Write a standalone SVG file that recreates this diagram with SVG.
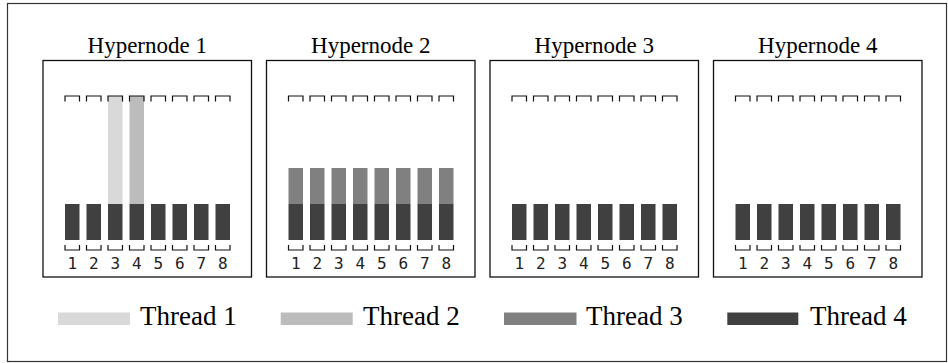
<svg xmlns="http://www.w3.org/2000/svg" xmlns:xlink="http://www.w3.org/1999/xlink" width="948" height="363" viewBox="0 0 948 363">
<style>
.frame{fill:#fff;stroke:#333;stroke-width:1.2}
.box{fill:none;stroke:#111;stroke-width:1.3}
.br{fill:none;stroke:#111;stroke-width:1.2}
.t4{fill:#404040}.t3{fill:#808080}.t2{fill:#bcbcbc}.t1{fill:#d9d9d9}
.title{font-family:"Liberation Serif","Times New Roman",serif;font-size:23px;fill:#000;text-anchor:middle}
.num{font-family:"DejaVu Sans Mono",monospace;font-size:16px;fill:#222;text-anchor:middle}
.leg{font-family:"Liberation Serif","Times New Roman",serif;font-size:27px;fill:#000}
</style>
<defs>
<g id="cells">
<path class="br" d="M22,101.5V96H36.5V101.5M43.5,101.5V96H58V101.5M65,101.5V96H79.5V101.5M86.5,101.5V96H101V101.5M108,101.5V96H122.5V101.5M129.5,101.5V96H144V101.5M151,101.5V96H165.5V101.5M172.5,101.5V96H187V101.5"/>
<path class="br" d="M22,245V250H36.5V245M43.5,245V250H58V245M65,245V250H79.5V245M86.5,245V250H101V245M108,245V250H122.5V245M129.5,245V250H144V245M151,245V250H165.5V245M172.5,245V250H187V245"/>
<g class="t4">
<rect x="22" y="204" width="14.5" height="36"/><rect x="43.5" y="204" width="14.5" height="36"/><rect x="65" y="204" width="14.5" height="36"/><rect x="86.5" y="204" width="14.5" height="36"/><rect x="108" y="204" width="14.5" height="36"/><rect x="129.5" y="204" width="14.5" height="36"/><rect x="151" y="204" width="14.5" height="36"/><rect x="172.5" y="204" width="14.5" height="36"/>
</g>
<rect class="box" x="0" y="60.5" width="208.5" height="216.5"/>
</g>
</defs>
<rect class="frame" x="7.5" y="3.5" width="939" height="358"/>
<g id="hypernode1" transform="translate(43,0)">
<rect class="t1" x="65" y="96" width="14.5" height="108"/>
<rect class="t2" x="86.5" y="96" width="14.5" height="108"/>
<use href="#cells" xlink:href="#cells"/>
<text class="title" x="104.25" y="53">Hypernode 1</text>
<text class="num" x="29.25 50.75 72.25 93.75 115.25 136.75 158.25 179.75" y="269">12345678</text>
</g>
<g id="hypernode2" transform="translate(266.5,0)">
<g class="t3">
<rect x="22" y="168" width="14.5" height="36"/><rect x="43.5" y="168" width="14.5" height="36"/><rect x="65" y="168" width="14.5" height="36"/><rect x="86.5" y="168" width="14.5" height="36"/><rect x="108" y="168" width="14.5" height="36"/><rect x="129.5" y="168" width="14.5" height="36"/><rect x="151" y="168" width="14.5" height="36"/><rect x="172.5" y="168" width="14.5" height="36"/>
</g>
<use href="#cells" xlink:href="#cells"/>
<text class="title" x="104.25" y="53">Hypernode 2</text>
<text class="num" x="29.25 50.75 72.25 93.75 115.25 136.75 158.25 179.75" y="269">12345678</text>
</g>
<g id="hypernode3" transform="translate(490,0)">
<use href="#cells" xlink:href="#cells"/>
<text class="title" x="104.25" y="53">Hypernode 3</text>
<text class="num" x="29.25 50.75 72.25 93.75 115.25 136.75 158.25 179.75" y="269">12345678</text>
</g>
<g id="hypernode4" transform="translate(713.5,0)">
<use href="#cells" xlink:href="#cells"/>
<text class="title" x="104.25" y="53">Hypernode 4</text>
<text class="num" x="29.25 50.75 72.25 93.75 115.25 136.75 158.25 179.75" y="269">12345678</text>
</g>
<g id="connectors"></g>
<g id="legend">
<rect class="t1" x="58" y="312.5" width="72" height="12.5"/>
<text class="leg" x="140" y="325">Thread 1</text>
<rect class="t2" x="280.7" y="312.5" width="72" height="12.5"/>
<text class="leg" x="363" y="325">Thread 2</text>
<rect class="t3" x="504" y="312.5" width="72.5" height="12.5"/>
<text class="leg" x="586" y="325">Thread 3</text>
<rect class="t4" x="727.3" y="312.5" width="71" height="12.5"/>
<text class="leg" x="810" y="325">Thread 4</text>
</g>
</svg>
